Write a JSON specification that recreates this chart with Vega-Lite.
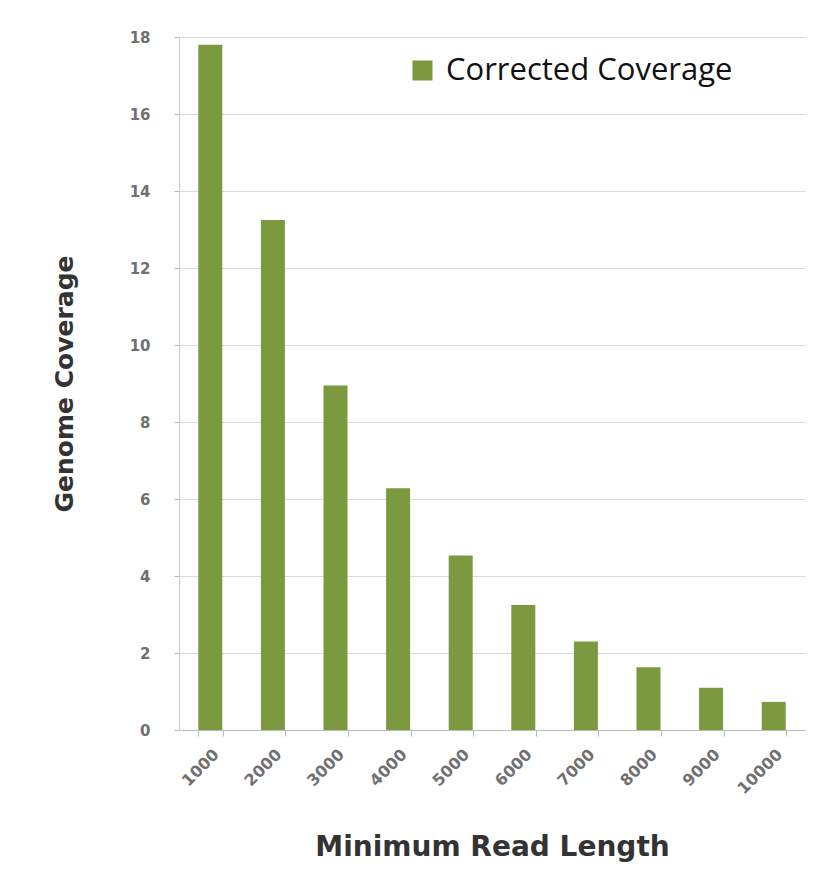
{
  "$schema": "https://vega.github.io/schema/vega-lite/v6.json",
  "autosize": {"type": "none"},
  "padding": {"left": 179, "top": 37, "right": 30, "bottom": 141},
  "width": 626,
  "height": 693,
  "background": "white",
  "data": {
    "values": [
      {"length": "1000", "coverage": 17.8, "series": "Corrected Coverage"},
      {"length": "2000", "coverage": 13.25, "series": "Corrected Coverage"},
      {"length": "3000", "coverage": 8.95, "series": "Corrected Coverage"},
      {"length": "4000", "coverage": 6.28, "series": "Corrected Coverage"},
      {"length": "5000", "coverage": 4.53, "series": "Corrected Coverage"},
      {"length": "6000", "coverage": 3.25, "series": "Corrected Coverage"},
      {"length": "7000", "coverage": 2.3, "series": "Corrected Coverage"},
      {"length": "8000", "coverage": 1.63, "series": "Corrected Coverage"},
      {"length": "9000", "coverage": 1.1, "series": "Corrected Coverage"},
      {"length": "10000", "coverage": 0.73, "series": "Corrected Coverage"}
    ]
  },
  "mark": {"type": "bar", "width": 24},
  "encoding": {
    "x": {
      "field": "length",
      "type": "ordinal",
      "sort": null,
      "scale": {"paddingInner": 0.6, "paddingOuter": 0.3},
      "axis": {
        "title": "Minimum Read Length",
        "titleFont": "DejaVu Sans",
        "titleFontSize": 28,
        "titleFontWeight": "bold",
        "titleColor": "#333333",
        "titlePadding": 37,
        "labelAngle": -45,
        "labelFont": "DejaVu Sans",
        "labelFontSize": 16,
        "labelFontWeight": "bold",
        "labelColor": "#707070",
        "labelPadding": 10,
        "domainColor": "#bbbbbb",
        "tickColor": "#bbbbbb",
        "tickBand": "extent",
        "tickSize": 6,
        "grid": false
      }
    },
    "y": {
      "field": "coverage",
      "type": "quantitative",
      "scale": {"domain": [0, 18], "nice": false},
      "axis": {
        "title": "Genome Coverage",
        "titleFont": "DejaVu Sans",
        "titleFontSize": 25,
        "titleFontWeight": "bold",
        "titleColor": "#333333",
        "titlePadding": 52,
        "values": [0, 2, 4, 6, 8, 10, 12, 14, 16, 18],
        "labelFont": "DejaVu Sans",
        "labelFontSize": 15,
        "labelFontWeight": "bold",
        "labelColor": "#707070",
        "labelPadding": 24,
        "tickSize": 5,
        "tickColor": "#bbbbbb",
        "domainColor": "#c8c8d8",
        "gridColor": "#d9d9d9",
        "grid": true
      }
    },
    "color": {
      "field": "series",
      "type": "nominal",
      "scale": {"range": ["#7b9a3f"]},
      "legend": {
        "title": null,
        "orient": "none",
        "legendX": 212,
        "legendY": 2,
        "padding": 16,
        "fillColor": "white",
        "symbolType": "square",
        "symbolSize": 400,
        "symbolStrokeWidth": 0,
        "labelFont": "Open Sans",
        "labelFontSize": 31,
        "labelColor": "#111111",
        "labelOffset": 8,
        "labelLimit": 500
      }
    }
  },
  "config": {
    "view": {"stroke": null}
  }
}
